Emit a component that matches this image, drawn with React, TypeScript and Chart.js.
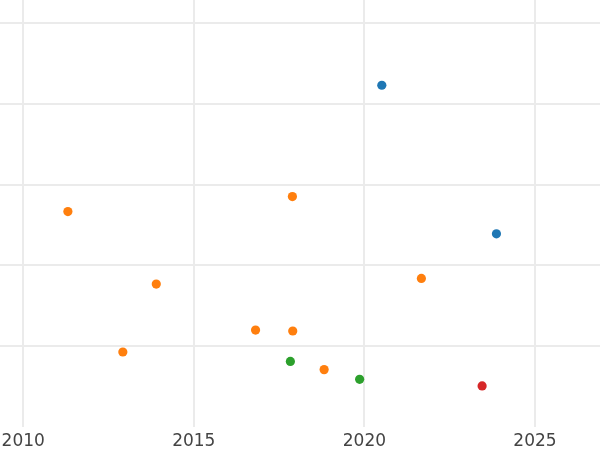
import React, { useEffect, useRef } from "react";
import { Chart, registerables } from "chart.js";

Chart.register(...registerables);

const blueX = [2020.51, 2023.87];
const blueY = [4.229, 2.391];
const orangeX = [2011.31, 2017.89, 2013.9, 2021.67, 2016.81, 2017.9, 2012.92, 2018.82];
const orangeY = [2.666, 2.852, 1.769, 1.838, 1.2, 1.188, 0.928, 0.71];
const greenX = [2017.83, 2019.86];
const greenY = [0.812, 0.59];
const redX = [2023.45];
const redY = [0.508];

const xTicks = [2010, 2015, 2020, 2025];
const yTicks = [1, 2, 3, 4, 5];

const X_MIN = 2009.32;
const X_MAX = 2026.905;
const Y_MIN = 0;
const Y_MAX = 5.284;

const pts = (xs: number[], ys: number[]) => xs.map((x, i) => ({ x, y: ys[i] }));

const series = [
  { label: "blue", color: "#1f77b4", data: pts(blueX, blueY) },
  { label: "orange", color: "#ff7f0e", data: pts(orangeX, orangeY) },
  { label: "green", color: "#2ca02c", data: pts(greenX, greenY) },
  { label: "red", color: "#d62728", data: pts(redX, redY) },
];

export default function App() {
  const ref = useRef<HTMLCanvasElement | null>(null);
  useEffect(() => {
    if (!ref.current) return;
    const chart = new Chart(ref.current, {
      type: "scatter",
      data: {
        datasets: series.map((s) => ({
          label: s.label,
          data: s.data,
          backgroundColor: s.color,
          borderColor: s.color,
          borderWidth: 0,
          pointRadius: 4.6,
          pointHoverRadius: 4.6,
        })),
      },
      options: {
        responsive: false,
        animation: false,
        layout: { padding: 0, autoPadding: false },
        plugins: { legend: { display: false }, tooltip: { enabled: false } },
        scales: {
          x: {
            type: "linear",
            min: X_MIN,
            max: X_MAX,
            afterBuildTicks: (scale: any) => {
              scale.ticks = xTicks.map((v) => ({ value: v }));
            },
            afterFit: (scale: any) => {
              scale.height = 23;
              scale.paddingLeft = 0;
              scale.paddingRight = 0;
              scale.paddingTop = 0;
              scale.paddingBottom = 0;
            },
            grid: { color: "#ebebeb", lineWidth: 2, drawTicks: false },
            border: { display: false },
            ticks: {
              padding: 4,
              color: "#444444",
              font: { family: "DejaVu Sans", size: 17 },
              callback: (v: any) => String(v),
            },
          },
          y: {
            type: "linear",
            min: Y_MIN,
            max: Y_MAX,
            afterBuildTicks: (scale: any) => {
              scale.ticks = yTicks.map((v) => ({ value: v }));
            },
            afterFit: (scale: any) => {
              scale.width = 0;
              scale.paddingLeft = 0;
              scale.paddingRight = 0;
              scale.paddingTop = 0;
              scale.paddingBottom = 0;
            },
            grid: { color: "#ebebeb", lineWidth: 2, drawTicks: false },
            border: { display: false },
            ticks: { display: false },
          },
        },
      },
    });
    return () => chart.destroy();
  }, []);
  return (
    <div style={{ position: "fixed", left: 0, top: 0, width: 600, height: 450, background: "#fff" }}>
      <canvas ref={ref} width={600} height={450} />
    </div>
  );
}
